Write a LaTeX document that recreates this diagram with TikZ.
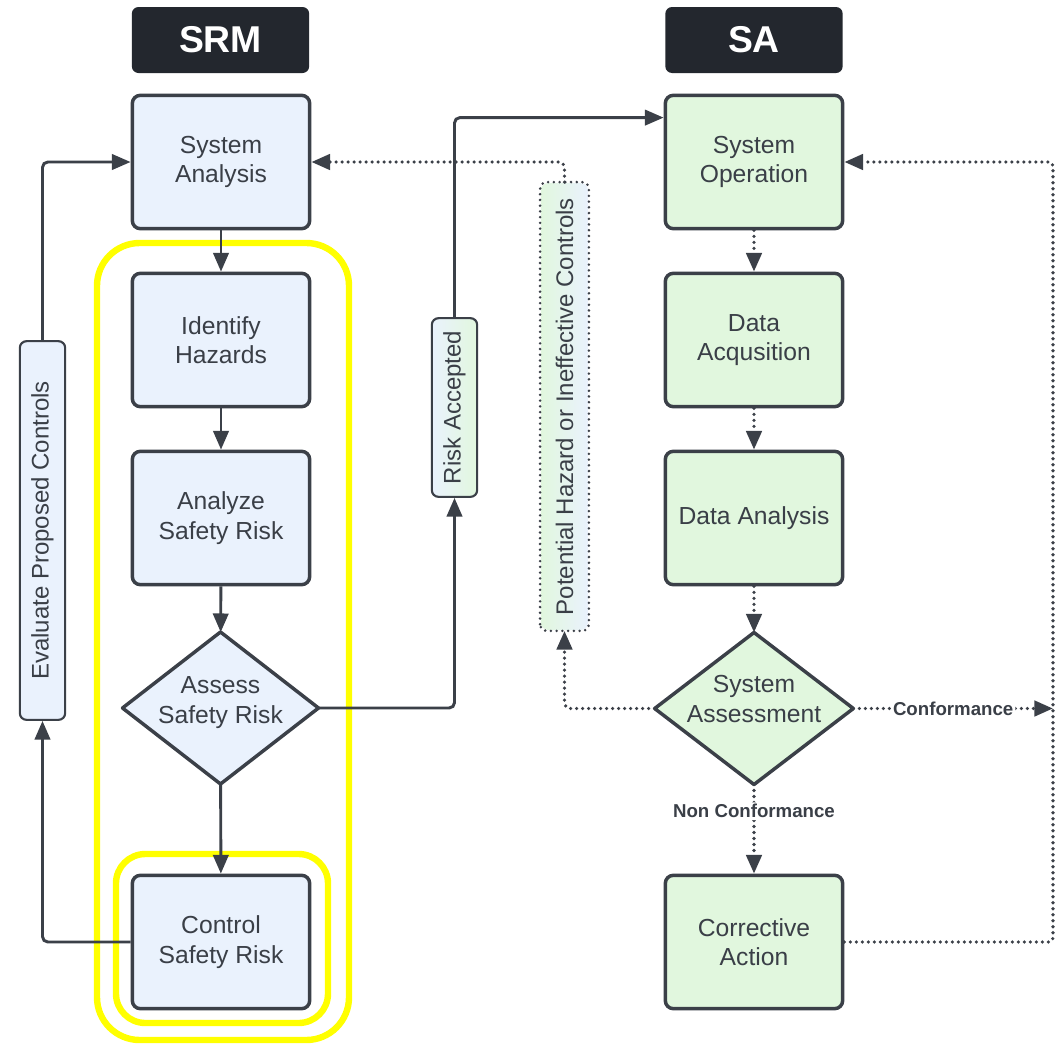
\documentclass[tikz,border=0pt]{standalone}
\usepackage{fontspec}
\setmainfont{Liberation Sans}
\usetikzlibrary{arrows.meta,shapes.geometric,calc}

\definecolor{ink}{HTML}{3B4048}
\definecolor{txt}{HTML}{3A3F47}
\definecolor{bluefill}{HTML}{EAF2FD}
\definecolor{greenfill}{HTML}{E1F7DE}
\definecolor{hdr}{HTML}{23272E}
\definecolor{hilite}{HTML}{FFFF00}

\begin{document}
\begin{tikzpicture}[x=0.75pt,y=-0.75pt,
  box/.style={draw=ink,line width=2.6pt,rounded corners=6pt,minimum width=133pt,
    minimum height=100pt,inner sep=0pt,align=center,
    font=\fontsize{18.5}{22}\selectfont,text=txt},
  srmbox/.style={box,fill=bluefill},
  sabox/.style={box,fill=greenfill},
  decision/.style={diamond,draw=ink,line width=2.6pt,line join=round,outer sep=0pt,
    minimum width=147pt,minimum height=114pt,inner sep=0pt},
  dtext/.style={align=center,font=\fontsize{18.5}{22}\selectfont,text=txt,inner sep=0pt},
  header/.style={fill=hdr,rounded corners=5pt,minimum width=133pt,minimum height=49.5pt,
    inner sep=0pt,text=white,font=\bfseries\fontsize{28}{30}\selectfont},
  tag/.style={draw=ink,line width=1.6pt,rounded corners=5pt,rotate=90,inner sep=0pt,
    minimum height=34pt,font=\fontsize{18}{20}\selectfont,text=txt},
  flow/.style={draw=ink,line width=2.2pt,rounded corners=4pt,
    -{Triangle[length=14pt,width=11.5pt]}},
  dots/.style={flow,line width=2.7pt,line cap=round,dash pattern=on 0pt off 4.5pt},
  flag/.style={fill=white,font=\bfseries\fontsize{14}{16}\selectfont,text=txt,inner sep=1.5pt},
  ring/.style={draw=hilite,line width=4.8pt}
]
\useasboundingbox (0,0) rectangle (1061,1050);
\fill[white] (0,0) rectangle (1061,1050);

% column headers
\node[header] (hsrm) at (220.5,40) {SRM};
\node[header] (hsa)  at (754,40)   {SA};

% safety risk management column
\node[srmbox] (sysan)   at (221,162) {System\\Analysis};
\node[srmbox] (ident)   at (221,340) {Identify\\Hazards};
\node[srmbox] (analyze) at (221,518) {Analyze\\Safety Risk};
\node[decision,fill=bluefill,
  label={[dtext,yshift=4pt]center:{Assess\\Safety Risk}}] (assess) at (220.5,708) {};
\node[srmbox] (control) at (221,942) {Control\\Safety Risk};

% safety assurance column
\node[sabox] (sysop) at (754,162) {System\\Operation};
\node[sabox] (dacq)  at (754,340) {Data\\Acqusition};
\node[sabox] (dan)   at (754,518) {Data Analysis};
\node[decision,fill=greenfill,minimum width=149pt,
  label={[dtext,yshift=7pt]center:{System\\Assessment}}] (sass) at (754,708.5) {};
\node[sabox] (corr)  at (754,942) {Corrective\\Action};

% highlight frames
\draw[ring,rounded corners=32pt] (97,243) rectangle (349,1040);
\draw[ring,rounded corners=22pt] (116,854) rectangle (328,1023);

% rotated connector labels
\node[tag,fill=bluefill,minimum width=284pt] (eval) at (42.5,530.5) {Evaluate Proposed Controls};
\node[tag,left color=bluefill,right color=greenfill,minimum width=134pt] (risk) at (454.5,407.5) {Risk Accepted};
\node[tag,draw=none,left color=greenfill,right color=bluefill,minimum width=335pt,minimum height=35pt]
  (pot) at (564.5,406.5) {Potential Hazard or Ineffective Controls};
\draw[ink,line width=2.1pt,line cap=round,dash pattern=on 0pt off 4.3pt,rounded corners=5pt]
  (pot.north west) rectangle (pot.south east);

% SRM flow
\draw[flow] (sysan) -- (ident);
\draw[flow] (ident) -- (analyze);
\draw[flow] (analyze) -- (assess);
\draw[flow] (assess) -- (control);
\draw[flow] (control.west) -| (eval.west);
\draw[flow] (eval.east) |- (sysan.west);
\draw[flow] (assess.east) -| (risk.west);
\coordinate (opin) at ($(sysop.north west)+(0,24)$);
\draw[flow] (risk.east) |- (opin);

% SA flow
\draw[dots] (sysop) -- (dacq);
\draw[dots] (dacq) -- (dan);
\draw[dots] (dan) -- (sass);
\draw[dots] (sass) -- node[flag,pos=0.3] (ncf) {Non Conformance} (corr);
\coordinate (rail) at (1053,162);
\coordinate (confend) at (1053,708.5);
\draw[dots] (sass.east) -- node[flag,pos=0.5] (cf) {Conformance} (confend);
\draw[dots,rounded corners=3pt] (corr.east) -| (rail) -- (sysop.east);
\draw[dots] (sass.west) -| (pot.west);
\draw[dots] (pot.east) |- (sysan.east);
\end{tikzpicture}
\end{document}
